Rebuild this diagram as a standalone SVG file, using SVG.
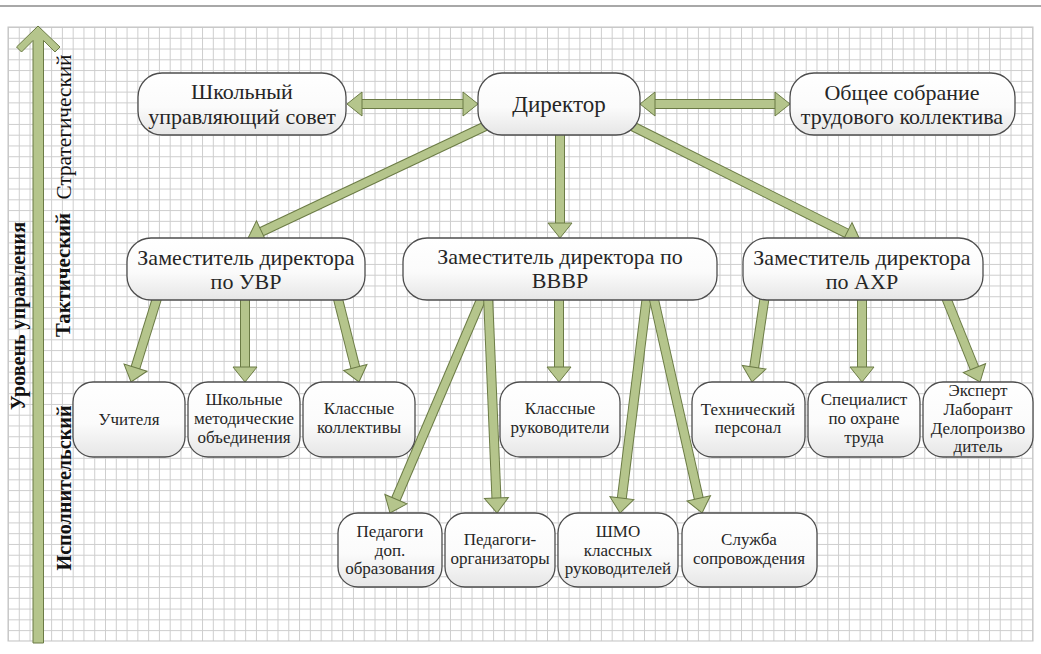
<svg xmlns="http://www.w3.org/2000/svg" width="1041" height="654" viewBox="0 0 1041 654">
<defs>
<style>
.node rect{fill:url(#ng);stroke:#4d4d4d;stroke-width:1.3}
.node text{fill:#262626;text-anchor:middle}
.big text{font-size:22px}
.sm text{font-size:17px}
.side{fill:#111;text-anchor:middle;font-size:22px}
.ol{stroke:#6b7b45;stroke-width:10;fill:none}
.fl{stroke:#b5c58c;stroke-width:8;fill:none;marker-end:url(#ah)}
.dbl{marker-start:url(#ahs)}
</style>
<linearGradient id="ng" x1="0" y1="0" x2="0" y2="1">
<stop offset="0" stop-color="#ffffff"/>
<stop offset="0.55" stop-color="#fbfbfb"/>
<stop offset="1" stop-color="#e6e6e6"/>
</linearGradient>
<pattern id="grid" width="10.78" height="10.77" patternUnits="userSpaceOnUse" x="8" y="27">
<path d="M0,0.5 H10.78 M0.5,0 V10.77" stroke="#cdcdcd" stroke-width="1" fill="none"/>
</pattern>
<marker id="ah" markerUnits="userSpaceOnUse" markerWidth="1" markerHeight="1" refX="0" refY="0" orient="auto" overflow="visible">
<path d="M-2,-12 L13,0 L-2,12 Z" fill="#b5c58c" stroke="#6b7b45" stroke-width="1"/>
</marker>
<marker id="ahs" markerUnits="userSpaceOnUse" markerWidth="1" markerHeight="1" refX="0" refY="0" orient="auto-start-reverse" overflow="visible">
<path d="M-2,-12 L13,0 L-2,12 Z" fill="#b5c58c" stroke="#6b7b45" stroke-width="1"/>
</marker>
</defs>
<rect x="0" y="0" width="1041" height="654" fill="#ffffff"/>
<rect x="0" y="5" width="1041" height="2" fill="#a8a8a8"/>
<rect x="8" y="27" width="1025" height="614" fill="url(#grid)" stroke="#c4c4c4" stroke-width="1"/>

<g id="axis">
<polygon points="38,26 60,47 55,52 43.5,40.5 43.5,643 33,643 33,40.5 21.5,52 16.5,47" fill="#b5c58c" stroke="#6b7b45" stroke-width="1"/>
<text class="side" font-family="'Liberation Serif', serif" font-weight="bold" font-size="20" textLength="188" lengthAdjust="spacingAndGlyphs" transform="translate(25,316) rotate(-90)">Уровень управления</text>
<text class="side" font-family="'Liberation Serif', serif" textLength="145" lengthAdjust="spacingAndGlyphs" transform="translate(71,127) rotate(-90)">Стратегический</text>
<text class="side" font-family="'Liberation Serif', serif" font-weight="bold" textLength="124" lengthAdjust="spacingAndGlyphs" transform="translate(70,275) rotate(-90)">Тактический</text>
<text class="side" font-family="'Liberation Serif', serif" font-weight="bold" textLength="165" lengthAdjust="spacingAndGlyphs" transform="translate(71,488) rotate(-90)">Исполнительский</text>
</g>

<g id="connectors">
<path class="ol" d="M360,104 H465"/><path class="fl dbl" d="M360,104 H465"/>
<path class="ol" d="M653,104 H777"/><path class="fl dbl" d="M653,104 H777"/>
<path class="ol" d="M490,124 L259.8,232.5"/><path class="fl" d="M490,124 L259.8,232.5"/>
<path class="ol" d="M560,130 V225"/><path class="fl" d="M560,130 V225"/>
<path class="ol" d="M628,124 L848.4,234.2"/><path class="fl" d="M628,124 L848.4,234.2"/>
<path class="ol" d="M158,295 L134.9,369.6"/><path class="fl" d="M158,295 L134.9,369.6"/>
<path class="ol" d="M245,295 V369"/><path class="fl" d="M245,295 V369"/>
<path class="ol" d="M337,295 L355.8,369.4"/><path class="fl" d="M337,295 L355.8,369.4"/>
<path class="ol" d="M483,295 L395.1,501"/><path class="fl" d="M483,295 L395.1,501"/>
<path class="ol" d="M488,295 L496.5,500"/><path class="fl" d="M488,295 L496.5,500"/>
<path class="ol" d="M559,295 V369"/><path class="fl" d="M559,295 V369"/>
<path class="ol" d="M647,295 L621.6,500.1"/><path class="fl" d="M647,295 L621.6,500.1"/>
<path class="ol" d="M653,295 L699.2,500.3"/><path class="fl" d="M653,295 L699.2,500.3"/>
<path class="ol" d="M765,295 L753.9,369.2"/><path class="fl" d="M765,295 L753.9,369.2"/>
<path class="ol" d="M862,295 V369"/><path class="fl" d="M862,295 V369"/>
<path class="ol" d="M945,295 L975.2,370"/><path class="fl" d="M945,295 L975.2,370"/>
</g>

<g id="n-sovet" class="node big"><rect x="138" y="73" width="208" height="62" rx="24"/>
<text font-family="'Liberation Serif', serif" x="242" y="99">Школьный</text><text font-family="'Liberation Serif', serif" x="242" y="124">управляющий совет</text></g>
<g id="n-director" class="node big"><rect x="478" y="73" width="162" height="62" rx="24"/>
<text font-family="'Liberation Serif', serif" x="559" y="112" style="font-size:23px">Директор</text></g>
<g id="n-sobranie" class="node big"><rect x="790" y="73" width="225" height="62" rx="24"/>
<text font-family="'Liberation Serif', serif" x="902" y="100">Общее собрание</text><text font-family="'Liberation Serif', serif" x="902" y="124">трудового коллектива</text></g>

<g id="n-uvr" class="node big"><rect x="127" y="238" width="238" height="62" rx="24"/>
<text font-family="'Liberation Serif', serif" x="246" y="265">Заместитель директора</text><text font-family="'Liberation Serif', serif" x="246" y="289">по УВР</text></g>
<g id="n-vvvr" class="node big"><rect x="403" y="238" width="314" height="62" rx="24"/>
<text font-family="'Liberation Serif', serif" x="560" y="264">Заместитель директора по</text><text font-family="'Liberation Serif', serif" x="560" y="288">ВВВР</text></g>
<g id="n-ahr" class="node big"><rect x="743" y="238" width="240" height="62" rx="24"/>
<text font-family="'Liberation Serif', serif" x="862" y="265">Заместитель директора</text><text font-family="'Liberation Serif', serif" x="862" y="289">по АХР</text></g>

<g id="n-uchitelya" class="node sm"><rect x="73" y="382" width="112" height="75" rx="20"/>
<text font-family="'Liberation Serif', serif" x="129" y="425">Учителя</text></g>
<g id="n-shmo1" class="node sm"><rect x="188" y="382" width="112" height="75" rx="20"/>
<text font-family="'Liberation Serif', serif" x="244" y="405">Школьные</text><text font-family="'Liberation Serif', serif" x="244" y="424">методические</text><text font-family="'Liberation Serif', serif" x="244" y="443">объединения</text></g>
<g id="n-kollektivy" class="node sm"><rect x="303" y="382" width="112" height="75" rx="20"/>
<text font-family="'Liberation Serif', serif" x="359" y="414">Классные</text><text font-family="'Liberation Serif', serif" x="359" y="433">коллективы</text></g>
<g id="n-klruk" class="node sm"><rect x="500" y="382" width="120" height="75" rx="20"/>
<text font-family="'Liberation Serif', serif" x="560" y="414">Классные</text><text font-family="'Liberation Serif', serif" x="560" y="433">руководители</text></g>
<g id="n-tech" class="node sm"><rect x="692" y="382" width="113" height="75" rx="20"/>
<text font-family="'Liberation Serif', serif" x="748" y="415">Технический</text><text font-family="'Liberation Serif', serif" x="748" y="433">персонал</text></g>
<g id="n-spec" class="node sm"><rect x="808" y="382" width="112" height="75" rx="20"/>
<text font-family="'Liberation Serif', serif" x="864" y="405">Специалист</text><text font-family="'Liberation Serif', serif" x="864" y="424">по охране</text><text font-family="'Liberation Serif', serif" x="864" y="443">труда</text></g>
<g id="n-expert" class="node sm"><rect x="923" y="382" width="110" height="75" rx="20"/>
<text font-family="'Liberation Serif', serif" x="978" y="396">Эксперт</text><text font-family="'Liberation Serif', serif" x="978" y="415">Лаборант</text><text font-family="'Liberation Serif', serif" x="978" y="434">Делопроизво</text><text font-family="'Liberation Serif', serif" x="978" y="452">дитель</text></g>

<g id="n-peddop" class="node sm"><rect x="338" y="513" width="104" height="74" rx="20"/>
<text font-family="'Liberation Serif', serif" x="390" y="537">Педагоги</text><text font-family="'Liberation Serif', serif" x="390" y="556">доп.</text><text font-family="'Liberation Serif', serif" x="390" y="574">образования</text></g>
<g id="n-pedorg" class="node sm"><rect x="445" y="513" width="110" height="74" rx="20"/>
<text font-family="'Liberation Serif', serif" x="500" y="545">Педагоги-</text><text font-family="'Liberation Serif', serif" x="500" y="564">организаторы</text></g>
<g id="n-shmo2" class="node sm"><rect x="558" y="513" width="120" height="74" rx="20"/>
<text font-family="'Liberation Serif', serif" x="618" y="537">ШМО</text><text font-family="'Liberation Serif', serif" x="618" y="556">классных</text><text font-family="'Liberation Serif', serif" x="618" y="574">руководителей</text></g>
<g id="n-sluzhba" class="node sm"><rect x="682" y="513" width="135" height="74" rx="20"/>
<text font-family="'Liberation Serif', serif" x="749" y="545">Служба</text><text font-family="'Liberation Serif', serif" x="749" y="564">сопровождения</text></g>
</svg>
